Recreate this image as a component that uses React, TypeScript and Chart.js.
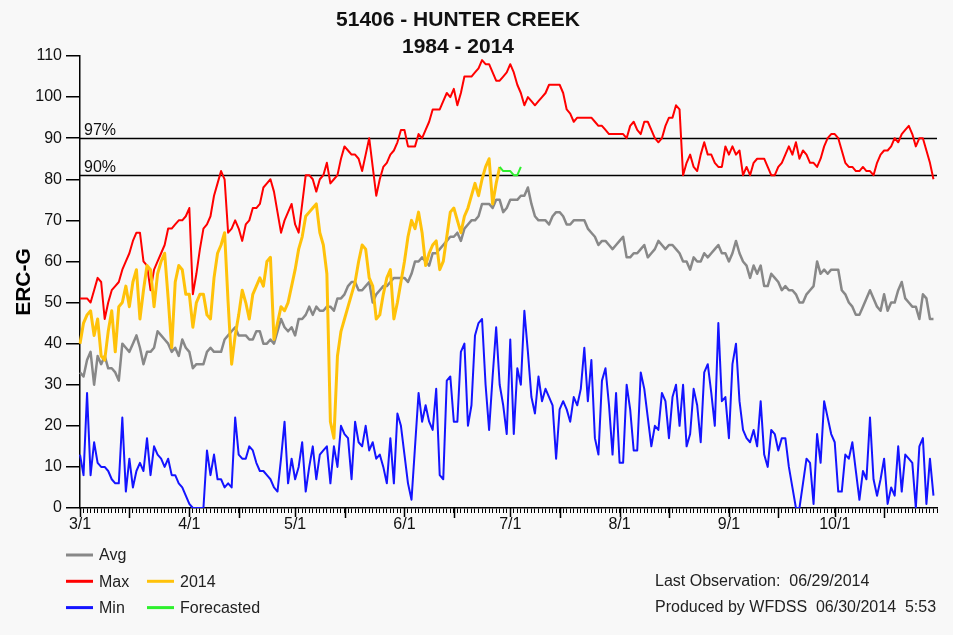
import React, { useEffect, useRef } from "react";
import { Chart, registerables } from "chart.js";

Chart.register(...registerables);

// ---------- categories ----------
const MONTH_LENGTHS = [31, 30, 31, 30, 31, 31, 30, 31]; // Mar .. Oct
const FIRST_MONTH = 3;
const DAY_COUNT = 244; // 3/1 .. 10/30
const DAYS: string[] = (() => {
  const out: string[] = [];
  MONTH_LENGTHS.forEach((len, mi) => {
    for (let d = 1; d <= len; d++) out.push(`${FIRST_MONTH + mi}/${d}`);
  });
  return out.slice(0, DAY_COUNT);
})();
const TICK_LABELS = ["3/1", "4/1", "5/1", "6/1", "7/1", "8/1", "9/1", "10/1"];

// ---------- series ----------
const MAX_VALUES = [
  51, 51, 51, 50, 53, 56, 55, 46, 50, 53,
  54, 55, 58, 60, 62, 65, 67, 67, 60, 59,
  53, 58, 60, 62, 64, 68, 68, 69, 70, 70,
  71, 73, 52, 57, 63, 68, 69, 71, 76, 79,
  82, 80, 67, 68, 70, 68, 65, 69, 70, 73,
  73, 74, 78, 79, 80, 77, 72, 67, 70, 72,
  74, 69, 67, 74, 81, 81, 80, 77, 80, 81,
  84, 79, 80, 81, 85, 88, 87, 86, 86, 85,
  82, 86, 90, 83, 76, 80, 83, 84, 86, 87,
  89, 92, 92, 88, 88, 88, 91, 90, 92, 94,
  97, 97, 97, 99, 101, 100, 102, 98, 101, 105,
  105, 105, 106, 107, 109, 108, 108, 106, 104, 104,
  105, 106, 108, 106, 103, 101, 98, 100, 99, 98,
  99, 100, 101, 103, 103, 103, 103, 101, 97, 96,
  94, 95, 95, 95, 95, 95, 94, 93, 93, 92,
  91, 91, 91, 91, 91, 90, 93, 94, 92, 91,
  94, 94, 92, 90, 89, 90, 93, 95, 95, 98,
  97, 81, 84, 86, 83, 82, 86, 89, 86, 86,
  84, 83, 83, 88, 86, 88, 86, 87, 81, 83,
  81, 84, 85, 85, 85, 83, 81, 81, 83, 84,
  86, 88, 86, 89, 85, 87, 86, 84, 84, 83,
  85, 88, 90, 91, 91, 90, 87, 84, 83, 83,
  82, 82, 83, 82, 82, 81, 84, 86, 87, 87,
  88, 90, 89, 91, 92, 93, 91, 88, 90, 90,
  87, 84, 80,
];

const AVG_VALUES = [
  33, 32, 36, 38, 30, 37, 35, 37, 34, 34,
  33, 31, 40, 39, 38, 40, 42, 39, 35, 38,
  38, 39, 43, 42, 41, 40, 38, 39, 37, 41,
  39, 38, 34, 35, 35, 35, 38, 39, 38, 38,
  38, 41, 42, 43, 44, 42, 42, 42, 41, 41,
  43, 43, 40, 40, 41, 40, 43, 46, 44, 43,
  44, 42, 46, 46, 47, 49, 47, 49, 48, 48,
  49, 49, 48, 51, 51, 52, 54, 55, 55, 53,
  53, 54, 55, 50, 52, 53, 54, 54, 55, 56,
  56, 56, 56, 55, 57, 60, 60, 61, 60, 59,
  62, 62, 63, 64, 65, 66, 66, 67, 65, 68,
  69, 70, 70, 71, 74, 74, 74, 73, 75, 75,
  72, 73, 75, 75, 75, 76, 76, 78, 74, 71,
  70, 70, 70, 69, 71, 72, 72, 71, 69, 69,
  70, 70, 70, 70, 68, 67, 66, 64, 65, 65,
  64, 63, 64, 65, 66, 61, 61, 62, 62, 63,
  64, 61, 62, 63, 65, 64, 63, 64, 64, 63,
  62, 60, 60, 58, 61, 60, 60, 62, 61, 62,
  63, 64, 62, 62, 60, 62, 65, 62, 60, 59,
  56, 59, 57, 59, 54, 54, 57, 56, 55, 53,
  54, 53, 53, 52, 50, 50, 52, 53, 54, 60,
  57, 58, 57, 58, 58, 58, 53, 52, 50, 49,
  47, 47, 49, 51, 53, 51, 49, 48, 52, 48,
  50, 50, 53, 55, 51, 50, 49, 49, 46, 52,
  51, 46, 46,
];

const MIN_VALUES = [
  13, 8, 28, 8, 16, 11, 10, 10, 9, 7,
  6, 6, 22, 4, 12, 5, 9, 11, 9, 17,
  8, 15, 13, 12, 10, 12, 8, 8, 6, 5,
  3, 1, 0, 0, 0, 0, 14, 8, 13, 7,
  7, 5, 6, 5, 22, 13, 12, 12, 15, 14,
  11, 9, 9, 8, 7, 5, 4, 12, 21, 6,
  12, 7, 10, 16, 4, 10, 15, 7, 13, 14,
  15, 6, 15, 10, 20, 18, 17, 7, 21, 16,
  15, 20, 14, 16, 12, 13, 10, 6, 17, 6,
  23, 20, 13, 6, 2, 15, 28, 21, 25, 21,
  19, 29, 8, 7, 31, 32, 21, 21, 38, 40,
  20, 25, 42, 45, 46, 30, 19, 32, 44, 30,
  25, 18, 41, 18, 34, 30, 48, 38, 27, 23,
  32, 26, 29, 27, 25, 12, 24, 26, 24, 21,
  27, 25, 29, 39, 26, 36, 17, 13, 31, 34,
  25, 13, 28, 11, 11, 30, 24, 14, 14, 33,
  29, 22, 15, 20, 19, 28, 26, 17, 27, 30,
  20, 30, 15, 18, 29, 25, 16, 33, 35, 28,
  20, 45, 26, 27, 17, 35, 40, 26, 19, 17,
  16, 19, 15, 26, 13, 10, 19, 18, 14, 17,
  17, 10, 5, 0, 0, 6, 12, 11, 1, 18,
  11, 26, 22, 18, 16, 4, 4, 13, 12, 16,
  9, 2, 9, 7, 22, 7, 3, 7, 12, 1,
  5, 3, 15, 4, 13, 12, 11, 0, 15, 17,
  1, 12, 3,
];

const Y2014_VALUES = [
  40, 45, 47, 48, 42, 46, 37, 36, 43, 48,
  38, 49, 50, 54, 49, 55, 58, 46, 53, 59,
  58, 49, 57, 60, 62, 51, 39, 55, 59, 58,
  52, 52, 44, 50, 52, 52, 47, 46, 56, 62,
  64, 67, 50, 35, 42, 47, 53, 50, 46, 52,
  54, 56, 54, 60, 61, 41, 45, 49, 48, 50,
  54, 58, 63, 66, 71, 72, 73, 74, 67, 64,
  57, 21, 17, 37, 43, 46, 49, 52, 55, 60,
  64, 63, 56, 54, 46, 47, 52, 56, 58, 46,
  50, 55, 60, 66, 70, 68, 72, 67, 59, 62,
  64, 65, 58, 60, 66, 72, 73, 70, 67, 71,
  73, 76, 79, 76, 80, 83, 85, 74, 79, 83,
];

const FORECAST_START = 119;
const FORECAST_VALUES = [83, 82, 82, 82, 81, 81, 83];

const PERCENTILES = [
  { label: "97%", value: 90 },
  { label: "90%", value: 81 },
];

const TITLE_LINES = ["51406 - HUNTER CREEK", "1984 - 2014"];
const FOOTER_LINES = ["Last Observation:  06/29/2014", "Produced by WFDSS  06/30/2014  5:53"];

// ---------- styles ----------
const FONT = "'Liberation Sans', Arial, Helvetica, sans-serif";
const BG = "#f8f8f8";
const C_AVG = "#888888";
const C_MAX = "#ff0000";
const C_MIN = "#1414ff";
const C_2014 = "#ffc20a";
const C_FC = "#2ef02e";

const LEGEND = [
  { label: "Avg", color: C_AVG, col: 0, row: 0 },
  { label: "Max", color: C_MAX, col: 0, row: 1 },
  { label: "2014", color: C_2014, col: 1, row: 1 },
  { label: "Min", color: C_MIN, col: 0, row: 2 },
  { label: "Forecasted", color: C_FC, col: 1, row: 2 },
];

const decorPlugin = {
  id: "decor",
  beforeDraw(chart: any) {
    const { ctx, width, height } = chart;
    ctx.save();
    ctx.fillStyle = BG;
    ctx.fillRect(0, 0, width, height);
    ctx.restore();
  },
  beforeDatasetsDraw(chart: any) {
    const { ctx, chartArea, scales } = chart;
    ctx.save();
    ctx.strokeStyle = "#000";
    ctx.lineWidth = 1.5;
    ctx.fillStyle = "#111";
    ctx.font = `16px ${FONT}`;
    ctx.textAlign = "left";
    ctx.textBaseline = "alphabetic";
    PERCENTILES.forEach((p) => {
      const y = Math.round(scales.y.getPixelForValue(p.value)) + 0.5;
      ctx.beginPath();
      ctx.moveTo(chartArea.left, y);
      ctx.lineTo(chartArea.right, y);
      ctx.stroke();
      ctx.fillText(p.label, chartArea.left + 4, y - 4);
    });
    ctx.restore();
  },
  afterDraw(chart: any) {
    const { ctx, chartArea, scales } = chart;
    ctx.save();
    // longer ticks at month starts and mid-month
    ctx.strokeStyle = "#000";
    ctx.lineWidth = 1.5;
    DAYS.forEach((d, i) => {
      const day = d.split("/")[1];
      if (day === "1" || day === "15") {
        const x = Math.round(scales.x.getPixelForValue(i)) + 0.5;
        ctx.beginPath();
        ctx.moveTo(x, chartArea.bottom);
        ctx.lineTo(x, chartArea.bottom + (day === "1" ? 9 : 10));
        ctx.stroke();
      }
    });
    // title
    ctx.fillStyle = "#111";
    ctx.textAlign = "center";
    ctx.textBaseline = "middle";
    ctx.font = `bold 21px ${FONT}`;
    ctx.fillText(TITLE_LINES[0], 458, 20);
    ctx.fillText(TITLE_LINES[1], 458, 47);
    // legend
    ctx.font = `16px ${FONT}`;
    ctx.textAlign = "left";
    LEGEND.forEach((it) => {
      const x0 = it.col === 0 ? 66 : 147;
      const y = 555 + it.row * 26.3;
      ctx.strokeStyle = it.color;
      ctx.lineWidth = 3;
      ctx.beginPath();
      ctx.moveTo(x0, y);
      ctx.lineTo(x0 + 27, y);
      ctx.stroke();
      ctx.fillStyle = "#222";
      ctx.fillText(it.label, x0 + 33, y + 1);
    });
    // footer
    ctx.fillText(FOOTER_LINES[0], 655, 582);
    ctx.fillText(FOOTER_LINES[1], 655, 608);
    ctx.restore();
  },
};

export default function App() {
  const ref = useRef<HTMLCanvasElement | null>(null);

  useEffect(() => {
    document.body.style.margin = "0";
    document.body.style.background = BG;
    const canvas = ref.current;
    if (!canvas) return;
    const forecastData: (number | null)[] = DAYS.map(() => null);
    FORECAST_VALUES.forEach((v, i) => {
      forecastData[FORECAST_START + i] = v;
    });

    const chart = new Chart(canvas, {
      type: "line",
      data: {
        labels: DAYS,
        datasets: [
          { label: "Forecasted", data: forecastData, borderColor: C_FC, borderWidth: 2 },
          { label: "2014", data: Y2014_VALUES, borderColor: C_2014, borderWidth: 3 },
          { label: "Max", data: MAX_VALUES, borderColor: C_MAX, borderWidth: 2 },
          { label: "Min", data: MIN_VALUES, borderColor: C_MIN, borderWidth: 2 },
          { label: "Avg", data: AVG_VALUES, borderColor: C_AVG, borderWidth: 2.5 },
        ],
      },
      options: {
        responsive: false,
        animation: false,
        devicePixelRatio: 1,
        layout: { padding: { left: 0, top: 56, right: 16, bottom: 0 } },
        elements: {
          point: { radius: 0, hoverRadius: 0 },
          line: { tension: 0, fill: false, borderJoinStyle: "round" },
        },
        plugins: {
          legend: { display: false },
          title: { display: false },
          tooltip: { enabled: false },
        },
        scales: {
          x: {
            type: "category",
            offset: false,
            grid: {
              display: true,
              drawOnChartArea: false,
              drawTicks: true,
              tickLength: 5,
              color: "#000",
              lineWidth: 1,
            },
            border: { display: true, color: "#000", width: 1.5 },
            ticks: {
              autoSkip: false,
              maxRotation: 0,
              minRotation: 0,
              padding: 2,
              color: "#111",
              font: { family: FONT, size: 16 },
              callback: (_v: any, i: number) => (TICK_LABELS.includes(DAYS[i]) ? DAYS[i] : ""),
            },
            afterFit: (s: any) => {
              s.height = 127;
            },
          },
          y: {
            min: 0,
            max: 110,
            ticks: {
              stepSize: 10,
              padding: 4,
              color: "#111",
              font: { family: FONT, size: 16 },
            },
            grid: {
              display: true,
              drawOnChartArea: false,
              tickLength: 14,
              color: "#000",
              lineWidth: 1.5,
            },
            border: { display: true, color: "#000", width: 1.5 },
            title: {
              display: true,
              text: "ERC-G",
              color: "#000",
              font: { family: FONT, size: 21, weight: "bold", lineHeight: 1.2 },
              padding: { top: 12, bottom: 0 },
            },
            afterFit: (s: any) => {
              s.width = 80;
            },
          },
        },
      } as any,
      plugins: [decorPlugin],
    });
    return () => chart.destroy();
  }, []);

  return (
    <div style={{ width: 953, height: 635, background: BG }}>
      <canvas ref={ref} width={953} height={635} style={{ display: "block" }} />
    </div>
  );
}
